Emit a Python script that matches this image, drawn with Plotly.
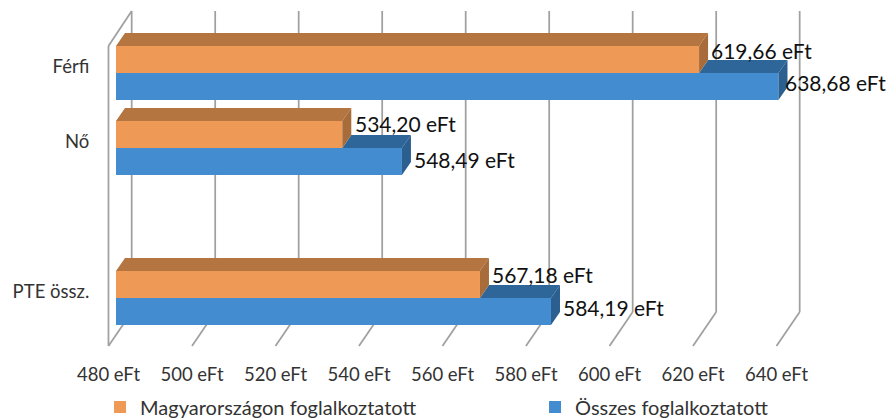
import plotly.graph_objects as go

# --- data ---
categories = ["Férfi", "Nő", "", "PTE össz."]
hungary = [619.66, 534.20, None, 567.18]
total = [638.68, 548.49, None, 584.19]
axis_ticks = [480, 500, 520, 540, 560, 580, 600, 620, 640]
series_names = ["Magyarországon foglalkoztatott", "Összes foglalkoztatott"]

# --- style ---
ORANGE, ORANGE_TOP, ORANGE_SIDE = "#EE9A56", "#B57540", "#A86C3A"
BLUE, BLUE_TOP, BLUE_SIDE = "#438CCF", "#2F6699", "#2A5F90"
WALL = "#A0A0A0"
FONT = "Lato"
BASE = 480
BAR_H = 0.36
DX, DY = 2.156, -0.173            # bar depth, in axis units
FLOOR_DX, BACK_DX = -1.8, 3.76    # wall planes relative to the bars' plane
FLOOR_Y, BACK_Y, TOP_BACK_Y, TOP_FRONT_Y = 3.64, 3.187, -0.827, -0.36
label_dx = [[13, 14, None, 13], [8, 13, None, 13]]
label_dy = [[9, 11, None, 10], [4, 2, None, 4]]

fig = go.Figure()
ys = list(range(len(categories)))


def faces(top_left_from, values, top_offset):
    top_x, top_y, side_x, side_y = [], [], [], []
    for y, v, start in zip(ys, values, top_left_from):
        if v is None:
            continue
        t, b = y + top_offset, y + top_offset + BAR_H
        top_x += [start, v, v + DX, start + DX, start, None]
        top_y += [t, t, t + DY, t + DY, t, None]
        side_x += [v, v + DX, v + DX, v, v, None]
        side_y += [t, t + DY, b + DY, b, t, None]
    return top_x, top_y, side_x, side_y


def polygon(x, y, color):
    fig.add_trace(go.Scatter(x=x, y=y, mode="lines", fill="toself", fillcolor=color,
                             line=dict(width=0, color=color), showlegend=False,
                             hoverinfo="skip"))


for name, values, color in [(series_names[0], hungary, ORANGE), (series_names[1], total, BLUE)]:
    offset = -BAR_H if values is hungary else 0
    fig.add_trace(go.Bar(
        name=name, orientation="h", y=ys,
        x=[None if v is None else v - BASE for v in values], base=BASE,
        width=BAR_H, offset=offset, marker=dict(color=color, line=dict(width=0)),
        hovertext=values, hoverinfo="text+name"))

bt_x, bt_y, bs_x, bs_y = faces(hungary, total, 0)
polygon(bt_x, bt_y, BLUE_TOP)
polygon(bs_x, bs_y, BLUE_SIDE)
ot_x, ot_y, os_x, os_y = faces([BASE] * len(hungary), hungary, -BAR_H)
polygon(ot_x, ot_y, ORANGE_TOP)
polygon(os_x, os_y, ORANGE_SIDE)

# chart walls
wall_line = dict(color=WALL, width=1.75)
for t in axis_ticks:
    fx, bx = t + FLOOR_DX, t + BACK_DX
    fig.add_shape(type="line", x0=fx, x1=bx, y0=FLOOR_Y, y1=BACK_Y, line=wall_line, layer="below")
    fig.add_shape(type="line", x0=bx, x1=bx, y0=BACK_Y, y1=TOP_BACK_Y, line=wall_line, layer="below")
fx, bx = axis_ticks[0] + FLOOR_DX, axis_ticks[0] + BACK_DX
fig.add_shape(type="line", x0=fx, x1=fx, y0=FLOOR_Y, y1=TOP_FRONT_Y, line=wall_line, layer="below")
fig.add_shape(type="line", x0=fx, x1=bx, y0=TOP_FRONT_Y, y1=TOP_BACK_Y, line=wall_line, layer="below")

# data labels
for s, (values, off) in enumerate([(hungary, -BAR_H / 2), (total, BAR_H / 2)]):
    for y, v, dx, dy in zip(ys, values, label_dx[s], label_dy[s]):
        if v is None:
            continue
        fig.add_annotation(x=v, y=y + off, text=f"{v:.2f} eFt".replace(".", ","), showarrow=False,
                           xanchor="left", yanchor="middle", xshift=dx - 3, yshift=dy,
                           font=dict(family=FONT, size=21, color="#111111"))

fig.update_layout(
    width=890, height=419, margin=dict(l=0, r=0, t=0, b=71, autoexpand=False),
    barmode="overlay", plot_bgcolor="white", paper_bgcolor="white",
    font=dict(family=FONT, size=18.5, color="#333333"),
    legend=dict(orientation="h", x=0.1124, xanchor="left", y=-0.1135, yanchor="top",
                entrywidth=390, entrywidthmode="pixels", font=dict(family=FONT, size=20, color="#333333"),
                bgcolor="rgba(0,0,0,0)"),
    xaxis=dict(domain=[100 / 890, 1], range=[476.17, 665.39], tickmode="array",
               tickvals=[t + FLOOR_DX for t in axis_ticks], ticktext=[f"{t} eFt" for t in axis_ticks],
               showgrid=False, zeroline=False, showline=False, ticks="outside", ticklen=10,
               tickcolor="rgba(0,0,0,0)", tickfont=dict(family=FONT, size=18.5, color="#333333")),
    yaxis=dict(range=[3.6667, -0.9733], tickmode="array",
               tickvals=[y - 0.08 for y, c in zip(ys, categories) if c],
               ticktext=[c for c in categories if c],
               showgrid=False, zeroline=False, showline=False, ticks="outside", ticklen=6,
               tickcolor="rgba(0,0,0,0)", tickfont=dict(family=FONT, size=18.5, color="#333333")),
)
fig.write_html("out.html", post_script="document.body.style.margin='0';",
               config={"displayModeBar": False})
